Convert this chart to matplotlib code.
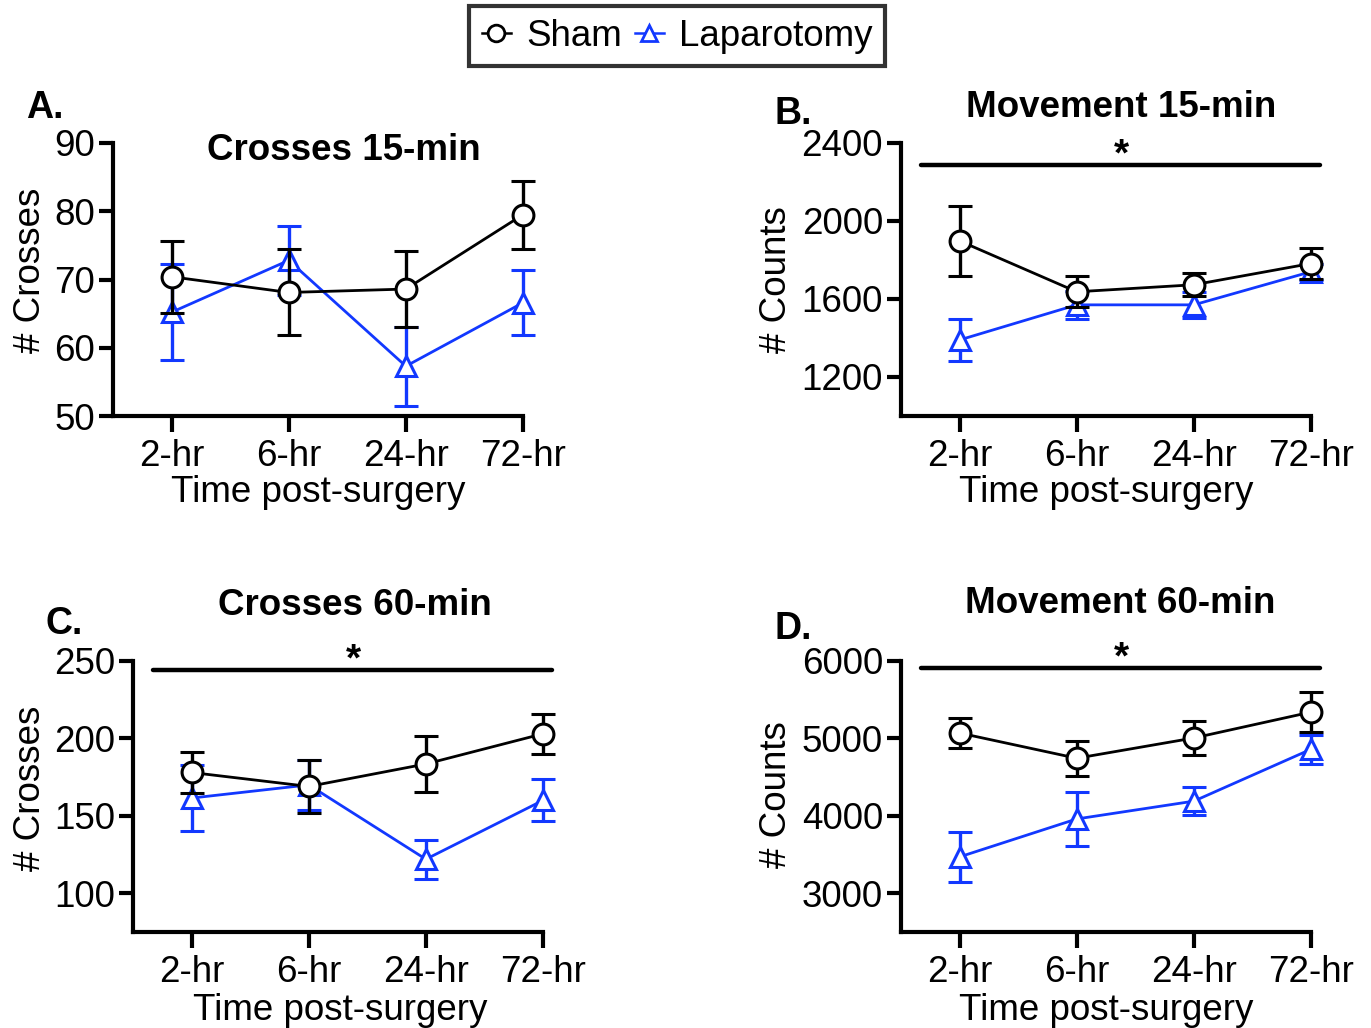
import matplotlib
matplotlib.use("Agg")
import matplotlib.pyplot as plt
from matplotlib.lines import Line2D

plt.rcParams['font.family'] = ['Liberation Sans', 'DejaVu Sans']

# Data (mean, SEM)
times = ["2-hr", "6-hr", "24-hr", "72-hr"]

crosses15_sham = [70.4, 68.1, 68.6, 79.5]
crosses15_sham_sem = [5.3, 6.3, 5.6, 5.0]
crosses15_lap = [65.2, 72.8, 57.3, 66.6]
crosses15_lap_sem = [7.0, 5.0, 5.8, 4.8]

move15_sham = [1898, 1637, 1673, 1782]
move15_sham_sem = [180, 80, 60, 78]
move15_lap = [1390, 1570, 1570, 1740]
move15_lap_sem = [110, 70, 65, 40]

crosses60_sham = [178, 169, 183.5, 203]
crosses60_sham_sem = [13.5, 17, 18, 13]
crosses60_lap = [161.5, 170, 122, 160]
crosses60_lap_sem = [21.5, 16, 12.5, 13.5]

move60_sham = [5070, 4744, 5006, 5340]
move60_sham_sem = [195, 225, 225, 260]
move60_lap = [3470, 3960, 4190, 4860]
move60_lap_sem = [320, 350, 180, 190]

BLUE = '#1238ff'
W, H = 1371, 1028
FS = 26.5

fig = plt.figure(figsize=(W / 100, H / 100), dpi=100)


def px_box(left, top, right, bottom):
    return [left / W, 1 - bottom / H, (right - left) / W, (bottom - top) / H]


def fx(x):
    return x / W


def fy(y):
    return 1 - y / H


def draw_panel(ax, sham, sham_sem, lap, lap_sem, ylim, yticks, star_y=None):
    x = list(range(len(times)))
    style = dict(ms=15, mfc='white', mew=2.2, lw=2, elinewidth=2.4,
                 capsize=8.5, capthick=2.4)
    c1 = ax.errorbar(x, lap, yerr=lap_sem, color=BLUE, marker='^', mec=BLUE,
                     zorder=2, **style)
    c2 = ax.errorbar(x, sham, yerr=sham_sem, color='black', marker='o', mec='black',
                     zorder=3, **style)
    for cont in (c1, c2):
        for art in cont.get_children():
            art.set_clip_on(False)
    ax.set_xlim(-0.5, 3)
    ax.set_ylim(*ylim)
    ax.set_xticks(x)
    ax.set_xticklabels(times)
    ax.set_yticks(yticks)
    for s in ['top', 'right']:
        ax.spines[s].set_visible(False)
    for s in ['left', 'bottom']:
        ax.spines[s].set_linewidth(3)
    ax.tick_params(axis='x', length=11.5, width=3, pad=5, labelsize=FS)
    ax.tick_params(axis='y', length=10, width=3, pad=3, labelsize=FS)
    if star_y is not None:
        ax.plot([-0.33, 3.08], [star_y, star_y], color='black', lw=3.2, clip_on=False,
                solid_capstyle='round')
        ax.text(1.38, star_y, '*', ha='center', va='baseline', fontsize=28,
                fontweight='bold', clip_on=False)


axA = fig.add_axes(px_box(113, 143, 523, 416))
draw_panel(axA, crosses15_sham, crosses15_sham_sem, crosses15_lap, crosses15_lap_sem,
           (50, 90), [50, 60, 70, 80, 90])

axB = fig.add_axes(px_box(901, 143, 1311, 416))
draw_panel(axB, move15_sham, move15_sham_sem, move15_lap, move15_lap_sem,
           (1000, 2400), [1200, 1600, 2000, 2400], star_y=2286)

axC = fig.add_axes(px_box(133, 661, 543, 932))
draw_panel(axC, crosses60_sham, crosses60_sham_sem, crosses60_lap, crosses60_lap_sem,
           (75, 250), [100, 150, 200, 250], star_y=244)

axD = fig.add_axes(px_box(901, 661, 1311, 932))
draw_panel(axD, move60_sham, move60_sham_sem, move60_lap, move60_lap_sem,
           (2500, 6000), [3000, 4000, 5000, 6000], star_y=5905)

# titles
for lbl, x, y in [("Crosses 15-min", 344, 160), ("Movement 15-min", 1121, 117),
                  ("Crosses 60-min", 355, 615), ("Movement 60-min", 1120, 613)]:
    fig.text(fx(x), fy(y), lbl, ha='center', va='baseline', fontsize=FS, fontweight='bold')

# panel letters
for lbl, x, y in [("A.", 45, 118), ("B.", 793, 124), ("C.", 64, 634), ("D.", 793, 639)]:
    fig.text(fx(x), fy(y), lbl, ha='center', va='baseline', fontsize=27, fontweight='bold')

# axis labels
for lbl, x, y in [("# Crosses", 31, 270), ("# Counts", 777, 280),
                  ("# Crosses", 31, 788), ("# Counts", 777, 795)]:
    fig.text(fx(x), fy(y), lbl, ha='center', va='center', rotation=90, fontsize=FS)
for x, y in [(318, 502), (1106, 502), (340, 1020), (1106, 1020)]:
    fig.text(fx(x), fy(y), "Time post-surgery", ha='center', va='baseline', fontsize=FS)

# legend
handles = [
    Line2D([], [], color='black', marker='o', ms=12, mfc='white', mew=2, lw=1.8),
    Line2D([], [], color=BLUE, marker='^', ms=12, mfc='white', mew=2, lw=1.8),
]
leg = fig.legend(handles, ["Sham", "Laparotomy"], loc='center',
                 bbox_to_anchor=(fx(677), fy(36)), ncol=2, fontsize=FS,
                 frameon=True, fancybox=False, edgecolor='black',
                 handlelength=0.8, handletextpad=0.4, columnspacing=0.35,
                 borderpad=0.35, borderaxespad=0)
leg.get_frame().set_linewidth(3)

fig.savefig("out.png", dpi=100)
